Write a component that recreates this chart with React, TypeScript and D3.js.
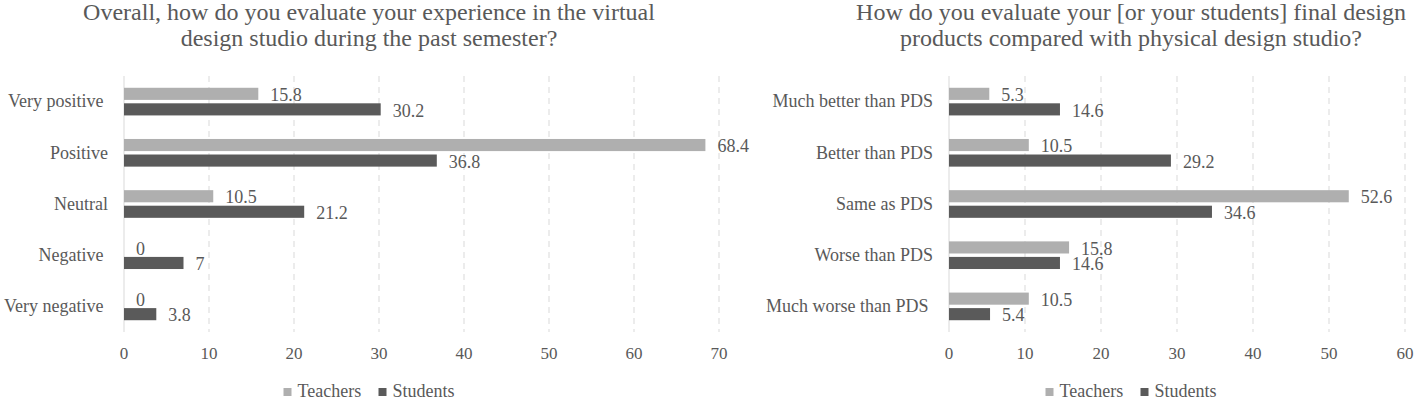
import { useEffect } from 'react';
import * as d3 from 'd3';

const SERIES = ['Teachers', 'Students'];
const COLORS = ['#afafaf', '#5a5a5a'];

// left panel
const experienceTitle = [
  'Overall, how do you evaluate your experience in the virtual',
  'design studio during the past semester?',
];
const experienceCategories = ['Very positive ', 'Positive', 'Neutral', 'Negative ', 'Very negative '];
const experienceTeachers = [15.8, 68.4, 10.5, 0, 0];
const experienceStudents = [30.2, 36.8, 21.2, 7, 3.8];
const experienceTicks = [0, 10, 20, 30, 40, 50, 60, 70];

// right panel
const productTitle = [
  'How do you evaluate your [or your students] final design',
  'products compared with physical design studio?',
];
const productCategories = ['Much better than PDS', 'Better than PDS', 'Same as PDS', 'Worse than PDS', 'Much worse than PDS '];
const productTeachers = [5.3, 10.5, 52.6, 15.8, 10.5];
const productStudents = [14.6, 29.2, 34.6, 14.6, 5.4];
const productTicks = [0, 10, 20, 30, 40, 50, 60];

const FONT = '"Liberation Serif", serif';
const TEXT = '#595959';
const GRID = '#d9d9d9';

interface PanelProps {
  title: string[];
  categories: string[];
  series: number[][];
  ticks: number[];
  xRange: [number, number];
  center: number;
}

function Panel({ title, categories, series, ticks, xRange, center }: PanelProps) {
  const x = d3.scaleLinear().domain([0, ticks[ticks.length - 1]]).range(xRange);
  const y = d3.scaleBand<string>().domain(categories).range([76, 332]).paddingInner(0.46).paddingOuter(0.23);
  const inner = d3.scaleBand<string>().domain(SERIES).range([0, y.bandwidth()]).paddingInner(0.22);

  // legend layout: square, gap, text
  const legendW = [78, 76];
  const legendTotal = legendW[0] + 17 + legendW[1];
  let lx = center - legendTotal / 2;

  const txt = { fontFamily: FONT, fill: TEXT };

  return (
    <g>
      {title.map((line, i) => (
        <text key={i} x={center} y={20 + i * 26} textAnchor="middle" fontSize="24px" style={txt}>
          {line}
        </text>
      ))}

      {/* grid */}
      {ticks.map((t) => (
        <line
          key={t}
          x1={x(t)}
          x2={x(t)}
          y1={76}
          y2={332}
          stroke={GRID}
          strokeWidth={1}
          strokeDasharray={t === 0 ? undefined : '6,5'}
        />
      ))}
      {ticks.map((t) => (
        <text key={'t' + t} x={x(t)} y={359} textAnchor="middle" fontSize="17px" style={txt}>
          {t}
        </text>
      ))}

      {/* bars */}
      {categories.map((c, ci) => (
        <g key={c}>
          <text
            x={x(0) - 16}
            y={y(c)! + y.bandwidth() / 2}
            dy="0.32em"
            textAnchor="end"
            fontSize="18px"
            style={{ ...txt, whiteSpace: 'pre' }}
          >
            {c}
          </text>
          {SERIES.map((s, si) => {
            const v = series[si][ci];
            const by = y(c)! + inner(s)!;
            return (
              <g key={s}>
                <rect x={x(0)} y={by} width={x(v) - x(0)} height={inner.bandwidth()} fill={COLORS[si]} />
                <text x={x(v) + 12} y={by + inner.bandwidth() / 2} dy="0.4em" fontSize="18px" style={txt}>
                  {v}
                </text>
              </g>
            );
          })}
        </g>
      ))}

      {/* legend */}
      {SERIES.map((s, i) => {
        const gx = lx;
        lx += legendW[i] + 17;
        return (
          <g key={s}>
            <rect x={gx} y={388} width={8} height={8} fill={COLORS[i]} />
            <text x={gx + 14} y={397} fontSize="18px" style={txt}>
              {s}
            </text>
          </g>
        );
      })}
    </g>
  );
}

export default function App() {
  useEffect(() => {
    document.body.style.margin = '0';
  }, []);

  return (
    <svg width={1415} height={400} style={{ display: 'block', background: '#fff' }}>
      <Panel
        title={experienceTitle}
        categories={experienceCategories}
        series={[experienceTeachers, experienceStudents]}
        ticks={experienceTicks}
        xRange={[124, 719]}
        center={369}
      />
      <Panel
        title={productTitle}
        categories={productCategories}
        series={[productTeachers, productStudents]}
        ticks={productTicks}
        xRange={[949, 1405]}
        center={1131}
      />
    </svg>
  );
}
